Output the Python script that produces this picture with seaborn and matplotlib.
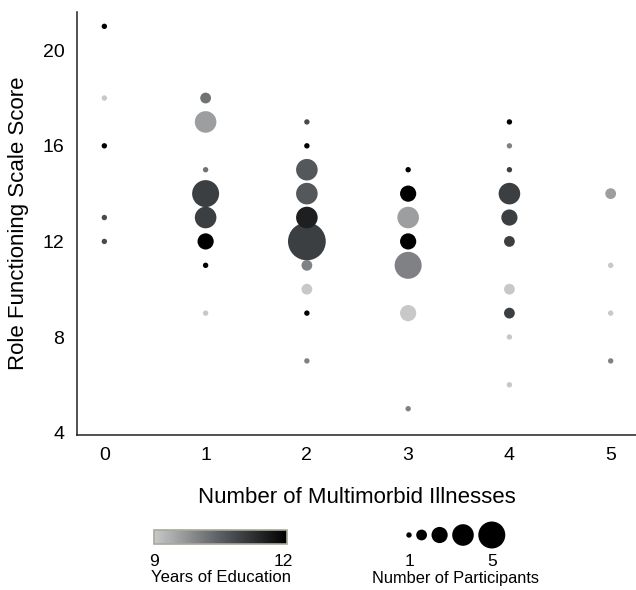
import numpy as np
import pandas as pd
import matplotlib
matplotlib.use('Agg')
import matplotlib.pyplot as plt
import seaborn as sns
from matplotlib.colors import LinearSegmentedColormap, Normalize
from matplotlib.cm import ScalarMappable

# number of multimorbid illnesses, role functioning score, participants, mean years of education
illnesses = [0, 0, 0, 0, 0,
             1, 1, 1, 1, 1, 1, 1, 1,
             2, 2, 2, 2, 2, 2, 2, 2, 2, 2,
             3, 3, 3, 3, 3, 3, 3,
             4, 4, 4, 4, 4, 4, 4, 4, 4, 4,
             5, 5, 5, 5]
score = [21, 18, 16, 13, 12,
         18, 17, 15, 14, 13, 12, 11, 9,
         17, 16, 15, 14, 13, 12, 11, 10, 9, 7,
         15, 14, 13, 12, 11, 9, 5,
         17, 16, 15, 14, 13, 12, 10, 9, 8, 6,
         14, 11, 9, 7]
participants = [1, 1, 1, 1, 1,
                2, 4, 1, 5, 4, 3, 1, 1,
                1, 1, 4, 4, 4, 7, 2, 2, 1, 1,
                1, 3, 4, 3, 5, 3, 1,
                1, 1, 1, 4, 3, 2, 2, 2, 1, 1,
                2, 1, 1, 1]
education = [12, 9, 12, 10.8, 10.8,
             10.2, 9.6, 10.2, 11, 11, 12, 12, 9,
             10.8, 12, 10.6, 10.6, 11.5, 11, 10, 9, 12, 10,
             12, 12, 9.6, 12, 10, 9, 10,
             12, 10, 11, 11, 11, 11, 9, 11, 9, 9,
             9.6, 9, 9, 10]

df = pd.DataFrame({'ill': illnesses, 'score': score, 'n': participants, 'edu': education})
df = df.sort_values('n', ascending=False)

cmap = LinearSegmentedColormap.from_list('edu', ['#c8c8c8', '#5a5e62', '#000000'])
norm = Normalize(9, 12)

def area(k):
    return 15.1 * k ** 2

plt.rcParams['font.family'] = ['Liberation Sans', 'DejaVu Sans']

fig = plt.figure(figsize=(6.36, 5.90), dpi=100)
ax = fig.add_axes([77 / 636, 155 / 590, 559 / 636, 423 / 590])

sns.scatterplot(data=df, x='ill', y='score', hue='edu', palette=cmap, hue_norm=norm,
                size='n', sizes={k: area(k) for k in sorted(df['n'].unique())},
                linewidth=0, alpha=1, legend=False, ax=ax)

ax.set_xlim(-0.27, 5.25)
ax.set_ylim(3.9, 21.6)
ax.set_xticks(range(6))
ax.set_yticks([4, 8, 12, 16, 20])
ax.tick_params(length=0, labelsize=14, pad=9)
for s in ['top', 'right']:
    ax.spines[s].set_visible(False)
for s in ['left', 'bottom']:
    ax.spines[s].set_linewidth(1.1)
    ax.spines[s].set_color('#222222')
ax.set_xlabel('Number of Multimorbid Illnesses', fontsize=16, labelpad=16)
ax.set_ylabel('Role Functioning Scale Score', fontsize=16, labelpad=10)

# colour legend
cax = fig.add_axes([154 / 636, 46 / 590, 133 / 636, 14 / 590])
cb = fig.colorbar(ScalarMappable(norm=norm, cmap=cmap), cax=cax, orientation='horizontal')
cb.outline.set_edgecolor('#a8a898')
cb.outline.set_linewidth(1.2)
cb.set_ticks([])
fig.text(154 / 636, 28 / 590, '9', fontsize=12.5, ha='center', va='center')
fig.text(283 / 636, 28 / 590, '12', fontsize=12.5, ha='center', va='center')
fig.text(221 / 636, 12 / 590, 'Years of Education', fontsize=12, ha='center', va='center')

# size legend
leg_n = [1, 2, 3, 4, 5]
diam = [5.4 * k for k in leg_n]
xs = [0.0]
for i in range(1, len(diam)):
    xs.append(xs[-1] + (diam[i - 1] + diam[i]) / 2 + 4.5)
sax = fig.add_axes([380 / 636, 40 / 590, 140 / 636, 30 / 590])
sax.scatter(np.array(xs) + 409 - 380, [15] * 5, s=[area(k) for k in leg_n], color='black', linewidth=0)
sax.set_xlim(0, 140)
sax.set_ylim(0, 30)
sax.axis('off')
fig.text(409 / 636, 28 / 590, '1', fontsize=12.5, ha='center', va='center')
fig.text((409 + xs[-1]) / 636, 28 / 590, '5', fontsize=12.5, ha='center', va='center')
fig.text(455 / 636, 12 / 590, 'Number of Participants', fontsize=11.8, ha='center', va='center')

fig.savefig('out.png', dpi=100)
